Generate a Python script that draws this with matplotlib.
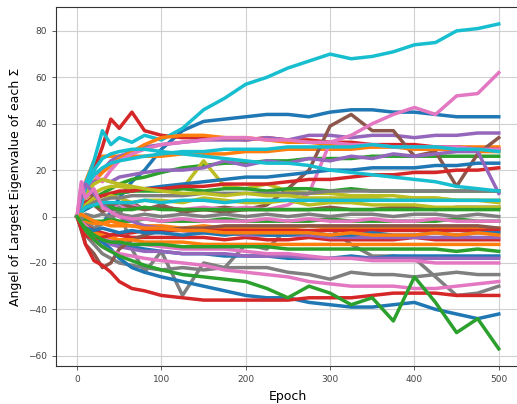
import numpy as np
import matplotlib
matplotlib.use("Agg")
import matplotlib.pyplot as plt

epochs = [0, 5, 10, 20, 30, 40, 50, 65, 80, 100, 125, 150, 175, 200,
          225, 250, 275, 300, 325, 350, 375, 400, 425, 450, 475, 500]

# one list of series per tab10 colour
blue_lines = [
    [0, -2, -3, -5, -3, 2, 8, 15, 20, 29, 37, 41, 42, 43, 44, 44, 43, 45, 46, 46, 45, 45, 44, 43, 43, 43],
    [0, 2, 3, 5, 7, 9, 10, 11, 12, 13, 14, 15, 16, 17, 17, 18, 19, 20, 20, 21, 21, 21, 22, 22, 23, 23],
    [0, -3, -5, -8, -10, -11, -12, -13, -14, -15, -16, -16, -17, -17, -17, -18, -18, -18, -17, -18, -17, -17, -17, -17, -17, -17],
    [0, -3, -6, -9, -11, -14, -18, -22, -24, -26, -28, -30, -32, -34, -35, -35, -37, -38, -39, -39, -38, -37, -40, -42, -44, -42],
    [0, -4, -5, -6, -5, -6, -7, -6, -7, -7, -8, -7, -8, -7, -8, -8, -7, -8, -8, -7, -8, -8, -7, -8, -7, -7],
]
orange_lines = [
    [0, 6, 15, 24, 26, 26, 26, 26, 26, 26, 27, 27, 27, 28, 28, 29, 29, 29, 29, 30, 30, 30, 30, 30, 30, 30],
    [0, 4, 9, 15, 19, 22, 25, 28, 31, 34, 35, 35, 34, 34, 33, 32, 32, 31, 31, 30, 30, 29, 29, 29, 28, 28],
    [0, -1, -2, -3, -3, -4, -4, -4, -4, -4, -5, -4, -5, -5, -5, -5, -4, -5, -5, -5, -5, -5, -5, -5, -5, -5],
    [0, -3, -5, -7, -8, -9, -10, -10, -11, -11, -11, -12, -12, -12, -12, -12, -12, -12, -12, -12, -12, -12, -12, -12, -12, -12],
    [0, 1, 0, -2, -3, -2, -3, -4, -5, -5, -6, -6, -7, -7, -7, -7, -7, -8, -7, -8, -8, -8, -7, -8, -7, -8],
]
green_lines = [
    [0, 2, 5, 8, 10, 12, 14, 16, 17, 19, 21, 22, 23, 23, 24, 24, 25, 25, 25, 26, 26, 26, 26, 26, 26, 26],
    [0, 3, 6, 8, 9, 10, 10, 11, 11, 11, 12, 11, 12, 12, 11, 12, 12, 11, 12, 11, 11, 11, 11, 11, 11, 11],
    [0, 2, 4, 5, 4, 4, 3, 3, 4, 3, 3, 3, 3, 3, 3, 3, 3, 3, 3, 3, 3, 3, 3, 3, 3, 3],
    [0, -1, -1, -2, -2, -1, -2, -2, -1, -2, -2, -2, -1, -2, -2, -2, -2, -1, -2, -2, -2, -2, -2, -1, -2, -2],
    [0, -3, -5, -8, -10, -11, -11, -12, -12, -12, -13, -13, -13, -13, -13, -14, -14, -14, -14, -14, -14, -14, -14, -15, -14, -15],
    [0, -3, -6, -10, -13, -15, -17, -19, -21, -23, -25, -26, -27, -28, -31, -35, -30, -33, -38, -35, -45, -26, -37, -50, -44, -57],
]
red_lines = [
    [0, 4, 10, 20, 30, 42, 38, 45, 37, 35, 34, 34, 34, 33, 34, 33, 33, 32, 32, 31, 31, 31, 30, 30, 29, 29],
    [0, 3, 6, 8, 9, 10, 11, 11, 12, 12, 13, 13, 14, 14, 14, 15, 16, 16, 17, 18, 18, 19, 19, 20, 20, 21],
    [0, -2, -4, -6, -7, -8, -8, -9, -9, -9, -9, -9, -10, -9, -10, -10, -9, -10, -10, -10, -10, -9, -10, -10, -10, -10],
    [0, -5, -8, -10, -9, -8, -7, -7, -6, -6, -6, -6, -6, -6, -6, -6, -6, -6, -6, -6, -6, -6, -6, -6, -6, -6],
    [0, -5, -12, -19, -21, -24, -28, -31, -32, -34, -35, -36, -36, -36, -36, -36, -35, -35, -35, -34, -33, -33, -33, -34, -34, -34],
]
purple_lines = [
    [0, 5, 12, 18, 20, 24, 26, 28, 30, 31, 32, 33, 33, 33, 34, 33, 35, 35, 34, 35, 35, 34, 35, 35, 36, 36],
    [0, 5, 10, 15, 16, 15, 17, 18, 19, 20, 20, 21, 24, 22, 24, 23, 25, 24, 26, 25, 27, 26, 27, 28, 28, 10],
    [0, -3, -6, -9, -11, -12, -13, -14, -15, -15, -16, -16, -16, -17, -17, -17, -18, -18, -18, -18, -18, -18, -18, -18, -18, -18],
    [0, 8, 14, 10, 5, 2, 0, -2, -4, -5, -6, -7, -7, -8, -8, -8, -8, -9, -9, -9, -9, -9, -9, -9, -9, -9],
]
brown_lines = [
    [0, 8, 12, 5, 2, 4, 2, 6, 3, 5, 2, 3, 4, 3, 5, 12, 20, 39, 44, 37, 37, 26, 28, 13, 27, 34],
    [0, 10, 13, 8, 6, 5, 6, 4, 3, 4, 3, 3, 2, 3, 3, 3, 3, 4, 3, 3, 4, 4, 3, 4, 4, 4],
    [0, -6, -12, -16, -22, -20, -14, -10, -8, -6, -5, -5, -4, -4, -4, -4, -4, -4, -4, -4, -4, -4, -4, -4, -4, -5],
]
pink_lines = [
    [0, 10, 15, 8, 5, 6, 4, 5, 3, 4, 3, 4, 3, 4, 3, 5, 10, 32, 35, 40, 44, 47, 44, 52, 53, 62],
    [0, 15, 12, 18, 15, 20, 24, 27, 29, 31, 32, 33, 34, 34, 33, 33, 32, 32, 31, 31, 30, 30, 30, 30, 29, 29],
    [0, -2, -4, -7, -9, -10, -11, -12, -12, -13, -14, -14, -14, -15, -16, -16, -17, -18, -18, -19, -19, -19, -20, -20, -20, -20],
    [0, -3, -6, -10, -13, -15, -16, -17, -18, -19, -20, -21, -23, -24, -25, -26, -28, -29, -30, -30, -30, -31, -31, -30, -29, -28],
    [0, 14, 8, 12, 4, 2, 0, -1, -1, -2, -1, -2, -2, -2, -1, -2, -1, -2, -2, -1, -2, -2, -1, -2, -2, -2],
]
gray_lines = [
    [0, 1, -2, -5, -3, -2, 4, -14, -24, -15, -34, -20, -22, -12, -14, -5, -8, -5, -12, -17, -17, -18, -26, -34, -33, -30],
    [0, -4, -8, -12, -16, -18, -20, -21, -22, -23, -22, -23, -22, -22, -22, -24, -25, -27, -24, -25, -25, -26, -25, -24, -25, -25],
    [0, 2, 4, 6, 7, 8, 8, 9, 9, 9, 9, 10, 10, 10, 10, 10, 10, 11, 11, 11, 11, 11, 11, 11, 11, 11],
    [0, -1, 1, 0, 1, 0, 1, 0, 1, 0, 1, 0, 1, 0, 1, 0, 1, 0, 1, 1, 0, 1, 1, 0, 1, 0],
]
olive_lines = [
    [0, 4, 8, 10, 12, 13, 13, 12, 12, 11, 12, 24, 13, 12, 14, 11, 10, 10, 9, 9, 9, 8, 8, 7, 7, 6],
    [0, 2, 5, 8, 7, 9, 8, 6, 7, 7, 6, 8, 7, 6, 6, 7, 5, 6, 6, 5, 5, 5, 4, 4, 4, 4],
    [0, 6, 10, 14, 16, 15, 14, 13, 12, 11, 10, 10, 9, 10, 9, 9, 8, 8, 8, 8, 7, 8, 8, 7, 7, 7],
]
cyan_lines = [
    [0, 6, 14, 24, 37, 31, 34, 32, 35, 33, 38, 46, 51, 57, 60, 64, 67, 70, 68, 69, 71, 74, 75, 80, 81, 83],
    [0, 5, 12, 18, 21, 23, 24, 25, 26, 27, 28, 28, 29, 29, 29, 30, 30, 30, 30, 31, 30, 30, 30, 29, 29, 28],
    [0, 5, 12, 20, 25, 27, 28, 29, 29, 28, 27, 26, 25, 24, 23, 23, 22, 20, 19, 18, 17, 16, 15, 13, 12, 11],
    [0, 2, 4, 5, 6, 6, 6, 6, 7, 6, 7, 7, 6, 7, 7, 7, 7, 7, 7, 7, 7, 7, 7, 7, 7, 7],
]

groups = [blue_lines, orange_lines, green_lines, red_lines, purple_lines,
          brown_lines, pink_lines, gray_lines, olive_lines, cyan_lines]
colors = plt.get_cmap("tab10").colors

fig = plt.figure(figsize=(5.17, 4.04), dpi=100)
ax = fig.add_axes([56 / 517, 38 / 404, 463 / 517, 359 / 404])

# draw in colour-cycle order, like the original loop did
for i in range(max(len(g) for g in groups)):
    for g, c in zip(groups, colors):
        if i < len(g):
            ax.plot(epochs, g[i], color=c, linewidth=2.5)

ax.set_xlim(-25, 524)
ax.set_ylim(-64.4, 90.3)
ax.set_xticks([0, 100, 200, 300, 400, 500])
ax.set_yticks([-60, -40, -20, 0, 20, 40, 60, 80])
ax.grid(True, color="#d0d0d0", linewidth=0.8)
ax.set_axisbelow(True)
for s in ax.spines.values():
    s.set_color("#333333")
    s.set_linewidth(0.8)
ax.tick_params(labelsize=6.5, colors="#444444", length=3, width=0.6)

ax.set_xlabel("Epoch", fontsize=9)
ax.set_ylabel("Angel of Largest Eigenvalue of each Σ", fontsize=9)

fig.savefig("out.png", dpi=100)
